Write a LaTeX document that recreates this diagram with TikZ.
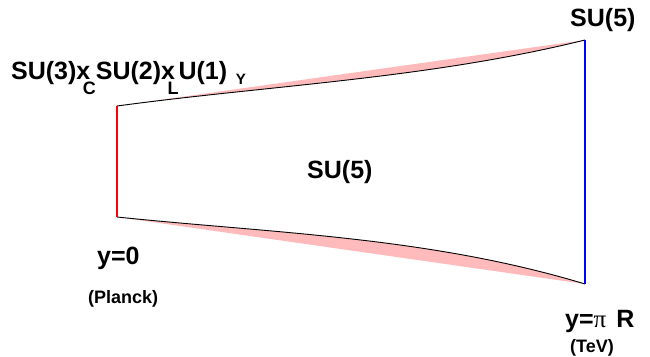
\documentclass[tikz,border=0pt]{standalone}
\usepackage{fontspec}
\setmainfont{Liberation Sans}
\newfontfamily\greekfont{Liberation Serif}
\definecolor{pinkfill}{RGB}{255,187,187}
\newcommand\lowsub[1]{\kern-0.3em\raisebox{-0.62em}{\fontsize{18}{18}\selectfont #1}}

\begin{document}
\begin{tikzpicture}[
  x=1pt, y=-1pt,
  big/.style={font=\fontsize{25}{25}\selectfont\bfseries, inner sep=0pt, anchor=base west},
  small/.style={font=\fontsize{18}{18}\selectfont\bfseries, inner sep=0pt, anchor=base west},
  bulkedge/.style={line width=0.9pt},
  brane/.style={line width=2pt}
]
  \useasboundingbox (0,0) rectangle (650,356);
  % corners of the slice
  \coordinate (uvtop) at (117,106);
  \coordinate (uvbot) at (117,217);
  \coordinate (irtop) at (585,40);
  \coordinate (irbot) at (585,284);
  % pink wedges between chord and warped edge
  \fill[pinkfill] (uvtop) -- (irtop) .. controls (429,78.5) and (273,85) .. (uvtop);
  \fill[pinkfill] (uvbot) -- (irbot) .. controls (429,236.8) and (273,233.2) .. (uvbot);
  \draw[bulkedge] (uvtop) .. controls (273,85) and (429,78.5) .. (irtop);
  \draw[bulkedge] (uvbot) .. controls (273,233.2) and (429,236.8) .. (irbot);
  \draw[brane, red] (uvtop) -- (uvbot);
  \draw[brane, blue] (irtop) -- (irbot);
  % labels
  \node[big] (smgroup) at (11,79) {SU(3)x\lowsub{C}SU(2)x\lowsub{L}U(1)\hspace{0.35em}\raisebox{-0.2em}{\fontsize{15}{15}\selectfont Y}};
  \node[big] (irgroup) at (570,26) {SU(5)};
  \node[big] (bulkgroup) at (307,178) {SU(5)};
  \node[big] (uvpos) at (97,264) {y=0};
  \node[small] (uvscale) at (88,303) {(Planck)};
  \node[big] (irpos) at (565,327) {y={\greekfont\mdseries π}\hspace{0.4em}R};
  \node[small] (irscale) at (570,352) {(TeV)};
\end{tikzpicture}
\end{document}
